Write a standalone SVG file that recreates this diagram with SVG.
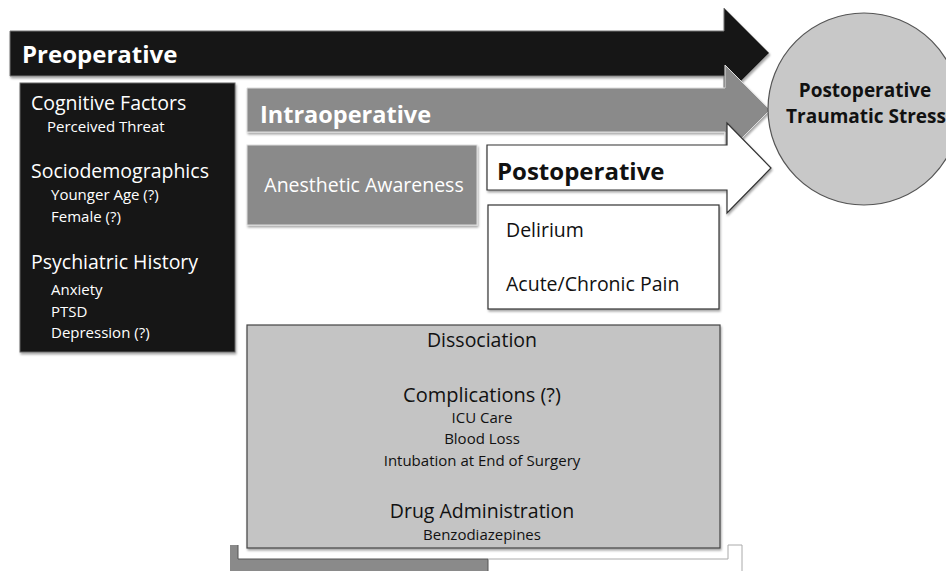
<svg xmlns="http://www.w3.org/2000/svg" width="946" height="571" viewBox="0 0 946 571">
<defs>
<filter id="sh" x="-5%" y="-5%" width="110%" height="115%">
<feDropShadow dx="1" dy="2" stdDeviation="1.2" flood-color="#000" flood-opacity="0.35"/>
</filter>
</defs>
<style>
text{font-family:"Open Sans","Liberation Sans",sans-serif}
.w{fill:#fff}
.k{fill:#111}
.b{font-weight:bold}
.c{text-anchor:middle}
</style>
<rect width="946" height="571" fill="#fff"/>
<g id="bottom-fragment">
<polygon points="230,545 238,545 238,559 488,559 488,571 230,571" fill="#8a8a8a"/>
<polyline points="238,545 238,559 488,559 488,571" fill="none" stroke="#555" stroke-width="1"/>
<polyline points="488,559 728,559 728,545 742,545 742,571" fill="none" stroke="#aaa" stroke-width="1"/>
</g>
<g id="connectors">
<g id="arrow-preoperative">
<polygon points="10,31 724,31 724,8 769,53 724,98 724,76 10,76" fill="#151515" stroke="#777" stroke-width="1" filter="url(#sh)"/>
<text x="22" y="63" class="w b" font-size="24">Preoperative</text>
</g>
<g id="arrow-intraoperative">
<polygon points="247,88 725,88 725,65 770,110 725,155 725,132 247,132" fill="#8a8a8a" stroke="#ddd" stroke-width="1" filter="url(#sh)"/>
<text x="260" y="123" class="w b" font-size="23.5">Intraoperative</text>
</g>
<g id="arrow-postoperative">
<polygon points="487,145 727,145 727,123 771,168 727,213 727,190 487,190" fill="#fff" stroke="#333" stroke-width="1.2" filter="url(#sh)"/>
<text x="497" y="180" class="k b" font-size="24">Postoperative</text>
</g>
</g>
<g id="node-outcome">
<circle cx="864" cy="109" r="96" fill="#c8c8c8" stroke="#555" stroke-width="1.2"/>
<text x="865" y="97" class="k b c" font-size="19">Postoperative</text>
<text x="866" y="123" class="k b c" font-size="19">Traumatic Stress</text>
</g>
<g id="node-preop-factors">
<rect x="20" y="83" width="215" height="269" fill="#151515" stroke="#666" stroke-width="1" filter="url(#sh)"/>
<text x="31" y="110" class="w" font-size="19.5">Cognitive Factors</text>
<text x="47" y="132" class="w" font-size="15">Perceived Threat</text>
<text x="31" y="178" class="w" font-size="19.5">Sociodemographics</text>
<text x="51" y="200" class="w" font-size="15">Younger Age (?)</text>
<text x="51" y="222" class="w" font-size="15">Female (?)</text>
<text x="31" y="269" class="w" font-size="19.5">Psychiatric History</text>
<text x="51" y="295" class="w" font-size="15">Anxiety</text>
<text x="51" y="317" class="w" font-size="15">PTSD</text>
<text x="51" y="338" class="w" font-size="15">Depression (?)</text>
</g>
<g id="node-awareness">
<rect x="247" y="145" width="230" height="80" fill="#8a8a8a" stroke="#ddd" stroke-width="1" filter="url(#sh)"/>
<text x="364" y="192" class="w c" font-size="19.5">Anesthetic Awareness</text>
</g>
<g id="node-postop-factors">
<rect x="488" y="205" width="231" height="104" fill="#fff" stroke="#333" stroke-width="1.2" filter="url(#sh)"/>
<text x="506" y="237" class="k" font-size="19.5">Delirium</text>
<text x="506" y="291" class="k" font-size="19.5">Acute/Chronic Pain</text>
</g>
<g id="node-shared-factors">
<rect x="247" y="325" width="473" height="223" fill="#c4c4c4" stroke="#444" stroke-width="1.2" filter="url(#sh)"/>
<text x="482" y="347" class="k c" font-size="19.5">Dissociation</text>
<text x="482" y="402" class="k c" font-size="20">Complications (?)</text>
<text x="482" y="423" class="k c" font-size="15">ICU Care</text>
<text x="482" y="444" class="k c" font-size="15">Blood Loss</text>
<text x="482" y="466" class="k c" font-size="15">Intubation at End of Surgery</text>
<text x="482" y="518" class="k c" font-size="19.5">Drug Administration</text>
<text x="482" y="540" class="k c" font-size="15">Benzodiazepines</text>
</g>
</svg>
